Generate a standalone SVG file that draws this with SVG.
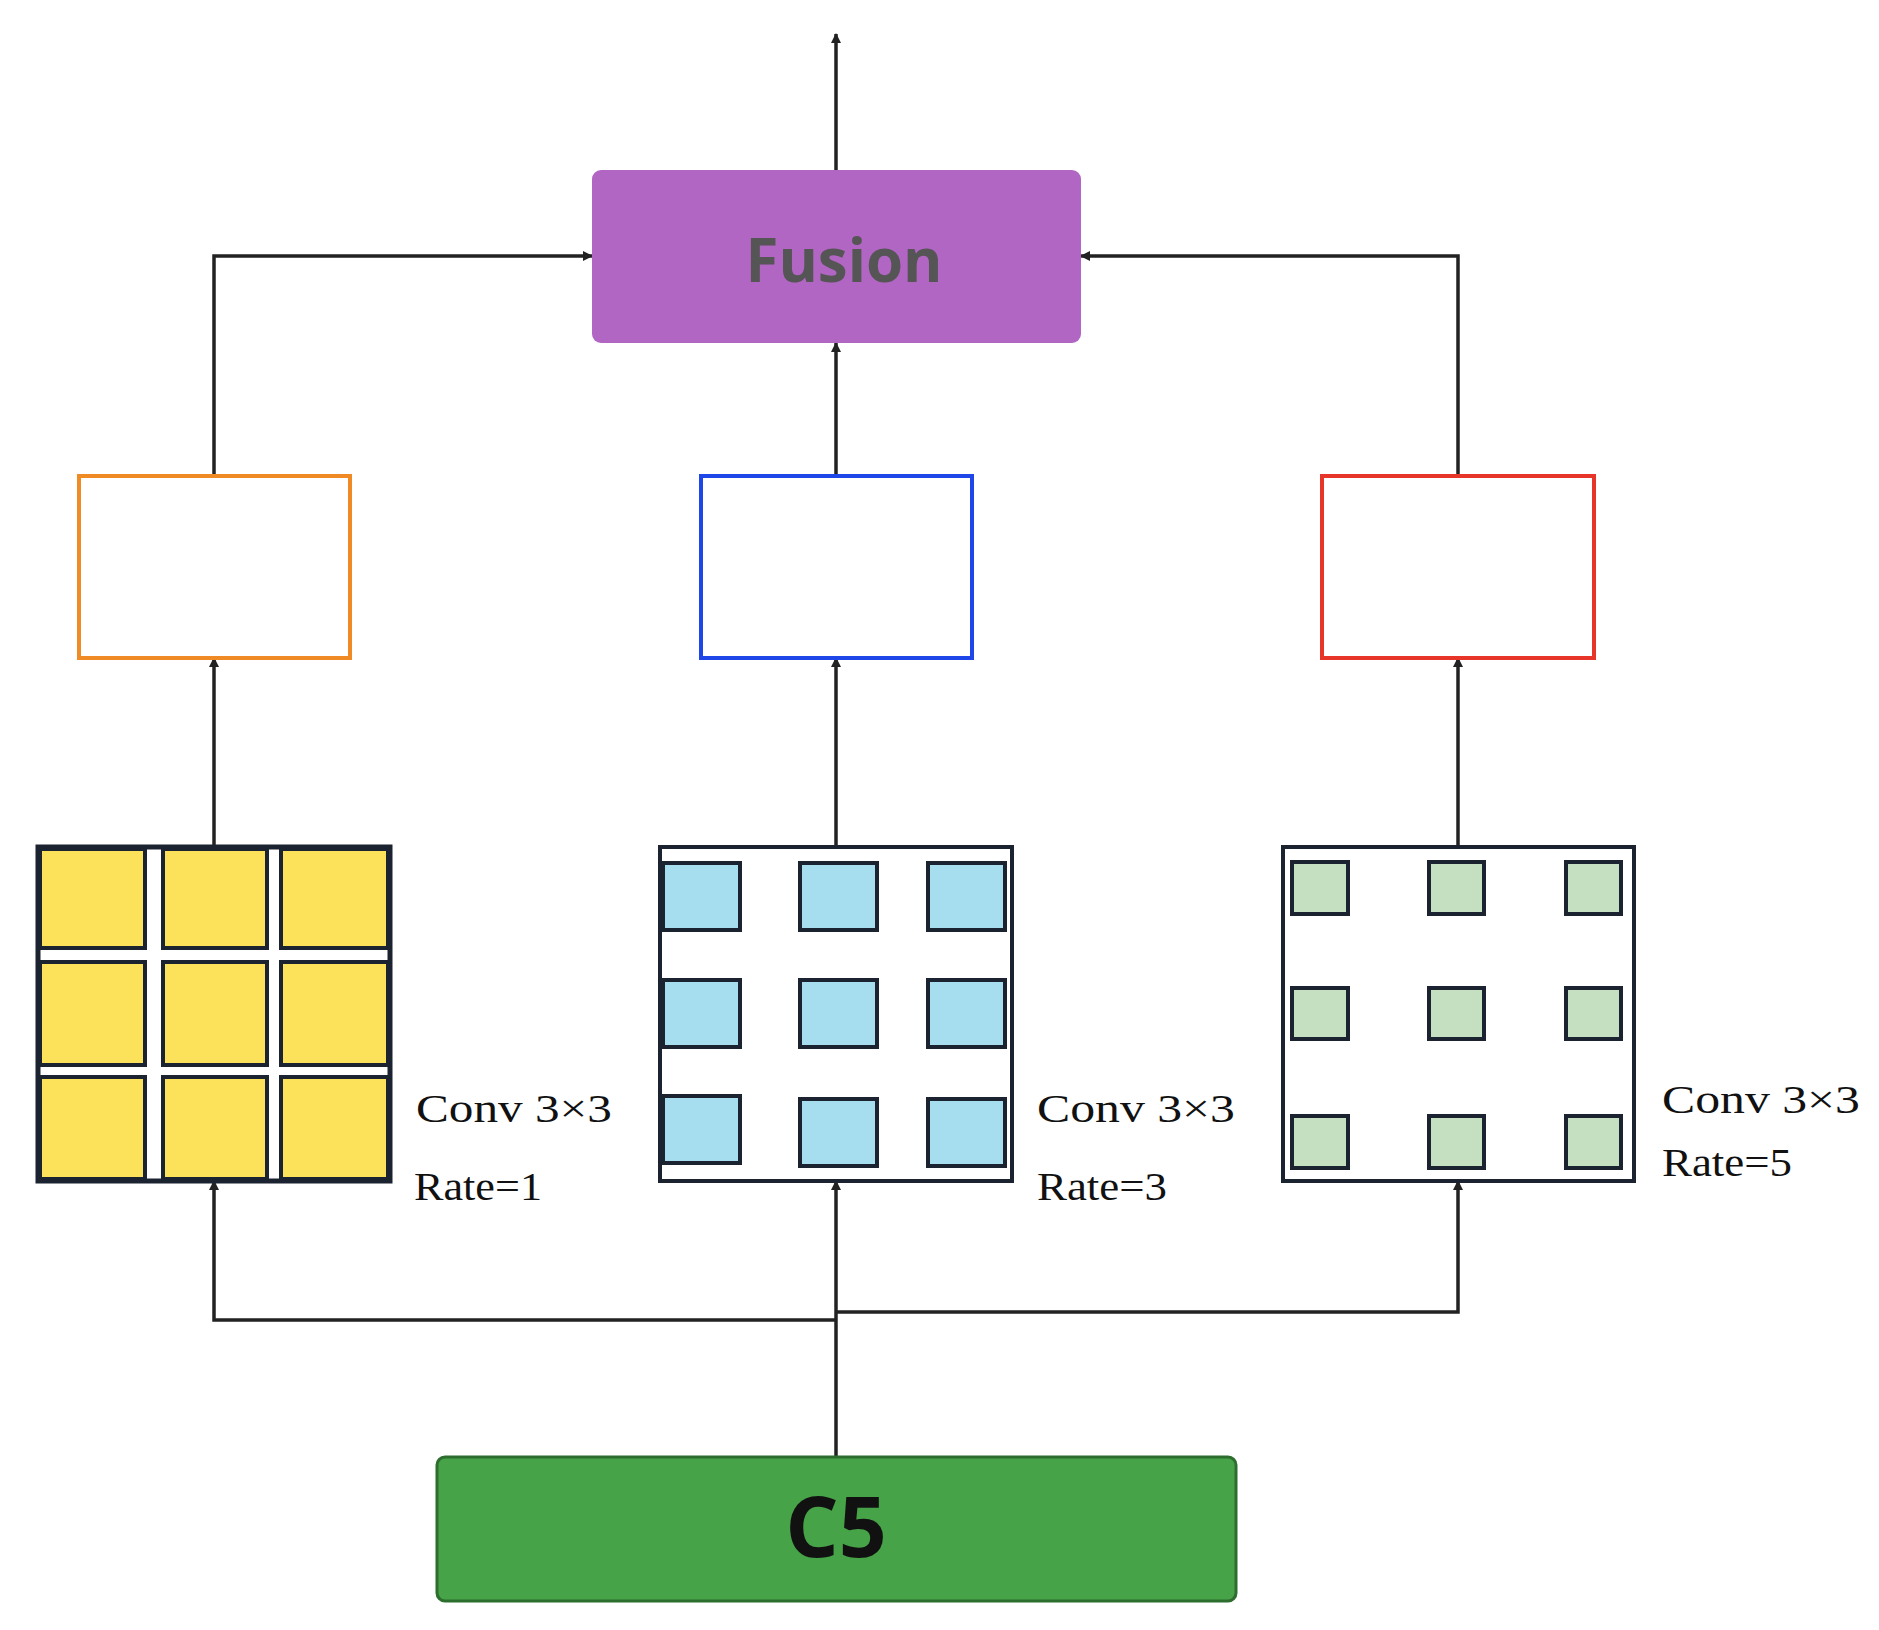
<svg xmlns="http://www.w3.org/2000/svg" width="1879" height="1630" viewBox="0 0 1879 1630">
<defs>
<marker id="ah" markerWidth="10" markerHeight="10" refX="9" refY="5" orient="auto" markerUnits="userSpaceOnUse" viewBox="0 0 10 10"><path d="M0,0 L10,5 L0,10 z" fill="#222"/></marker>
<style>
.c{fill:none;stroke:#222;stroke-width:3.5}
.y{fill:#fbe25a;stroke:#1c2330;stroke-width:4}
.b{fill:#a6def0;stroke:#1c2330;stroke-width:4}
.g{fill:#c5dfc1;stroke:#1c2330;stroke-width:4}
.lbl{font-family:"Liberation Serif",serif;font-size:40px;fill:#111}
</style>
</defs>
<rect width="1879" height="1630" fill="#fff"/>
<g id="connectors">
<path class="c" d="M836,170 V34" marker-end="url(#ah)" style="--m:0"/>
<path class="c" d="M214,476 V256 H592" marker-end="url(#ah)"/>
<path class="c" d="M1458,476 V256 H1081" marker-end="url(#ah)"/>
<path class="c" d="M836,476 V343" marker-end="url(#ah)"/>
<path class="c" d="M214,847 V658" marker-end="url(#ah)"/>
<path class="c" d="M836,847 V658" marker-end="url(#ah)"/>
<path class="c" d="M1458,847 V658" marker-end="url(#ah)"/>
<path class="c" d="M836,1457 V1181" marker-end="url(#ah)"/>
<path class="c" d="M836,1320 H214 V1181" marker-end="url(#ah)"/>
<path class="c" d="M836,1312 H1458 V1181" marker-end="url(#ah)"/>
</g>
<g id="fusion">
<rect x="592" y="170" width="489" height="173" rx="9" fill="#b266c4"/>
<text x="844" y="282" text-anchor="middle" font-family="'Open Sans',sans-serif" font-weight="bold" font-size="60" fill="#555">Fusion</text>
</g>
<g id="box-orange"><rect x="79" y="476" width="271" height="182" fill="#fff" stroke="#f08a24" stroke-width="4"/></g>
<g id="box-blue"><rect x="701" y="476" width="271" height="182" fill="#fff" stroke="#1f46e8" stroke-width="4"/></g>
<g id="box-red"><rect x="1322" y="476" width="272" height="182" fill="#fff" stroke="#e8352a" stroke-width="4"/></g>
<g id="grid-rate1">
<rect x="38" y="847" width="352" height="334" fill="#fff" stroke="#1c2330" stroke-width="5"/>
<rect class="y" x="40" y="849" width="105" height="99"/><rect class="y" x="163" y="849" width="104" height="99"/><rect class="y" x="281" y="849" width="107" height="99"/>
<rect class="y" x="40" y="962" width="105" height="103"/><rect class="y" x="163" y="962" width="104" height="103"/><rect class="y" x="281" y="962" width="107" height="103"/>
<rect class="y" x="40" y="1077" width="105" height="102"/><rect class="y" x="163" y="1077" width="104" height="102"/><rect class="y" x="281" y="1077" width="107" height="102"/>
<text class="lbl" x="416" y="1122" textLength="196" lengthAdjust="spacingAndGlyphs">Conv 3×3</text>
<text class="lbl" x="414" y="1200" textLength="128" lengthAdjust="spacingAndGlyphs">Rate=1</text>
</g>
<g id="grid-rate3">
<rect x="660" y="847" width="352" height="334" fill="#fff" stroke="#1c2330" stroke-width="4"/>
<rect class="b" x="663" y="863" width="77" height="67"/><rect class="b" x="800" y="863" width="77" height="67"/><rect class="b" x="928" y="863" width="77" height="67"/>
<rect class="b" x="663" y="980" width="77" height="67"/><rect class="b" x="800" y="980" width="77" height="67"/><rect class="b" x="928" y="980" width="77" height="67"/>
<rect class="b" x="663" y="1096" width="77" height="67"/><rect class="b" x="800" y="1099" width="77" height="67"/><rect class="b" x="928" y="1099" width="77" height="67"/>
<text class="lbl" x="1037" y="1122" textLength="198" lengthAdjust="spacingAndGlyphs">Conv 3×3</text>
<text class="lbl" x="1037" y="1200" textLength="130" lengthAdjust="spacingAndGlyphs">Rate=3</text>
</g>
<g id="grid-rate5">
<rect x="1283" y="847" width="351" height="334" fill="#fff" stroke="#1c2330" stroke-width="4"/>
<rect class="g" x="1292" y="862" width="56" height="52"/><rect class="g" x="1429" y="862" width="55" height="52"/><rect class="g" x="1566" y="862" width="55" height="52"/>
<rect class="g" x="1292" y="988" width="56" height="51"/><rect class="g" x="1429" y="988" width="55" height="51"/><rect class="g" x="1566" y="988" width="55" height="51"/>
<rect class="g" x="1292" y="1116" width="56" height="52"/><rect class="g" x="1429" y="1116" width="55" height="52"/><rect class="g" x="1566" y="1116" width="55" height="52"/>
<text class="lbl" x="1662" y="1113" textLength="198" lengthAdjust="spacingAndGlyphs">Conv 3×3</text>
<text class="lbl" x="1662" y="1176" textLength="130" lengthAdjust="spacingAndGlyphs">Rate=5</text>
</g>
<g id="c5">
<rect x="437" y="1457" width="799" height="144" rx="8" fill="#47a348" stroke="#2d6e2e" stroke-width="3"/>
<text x="836" y="1557" text-anchor="middle" font-family="'Open Sans',sans-serif" font-weight="bold" font-size="84" fill="#111">C5</text>
</g>
</svg>
